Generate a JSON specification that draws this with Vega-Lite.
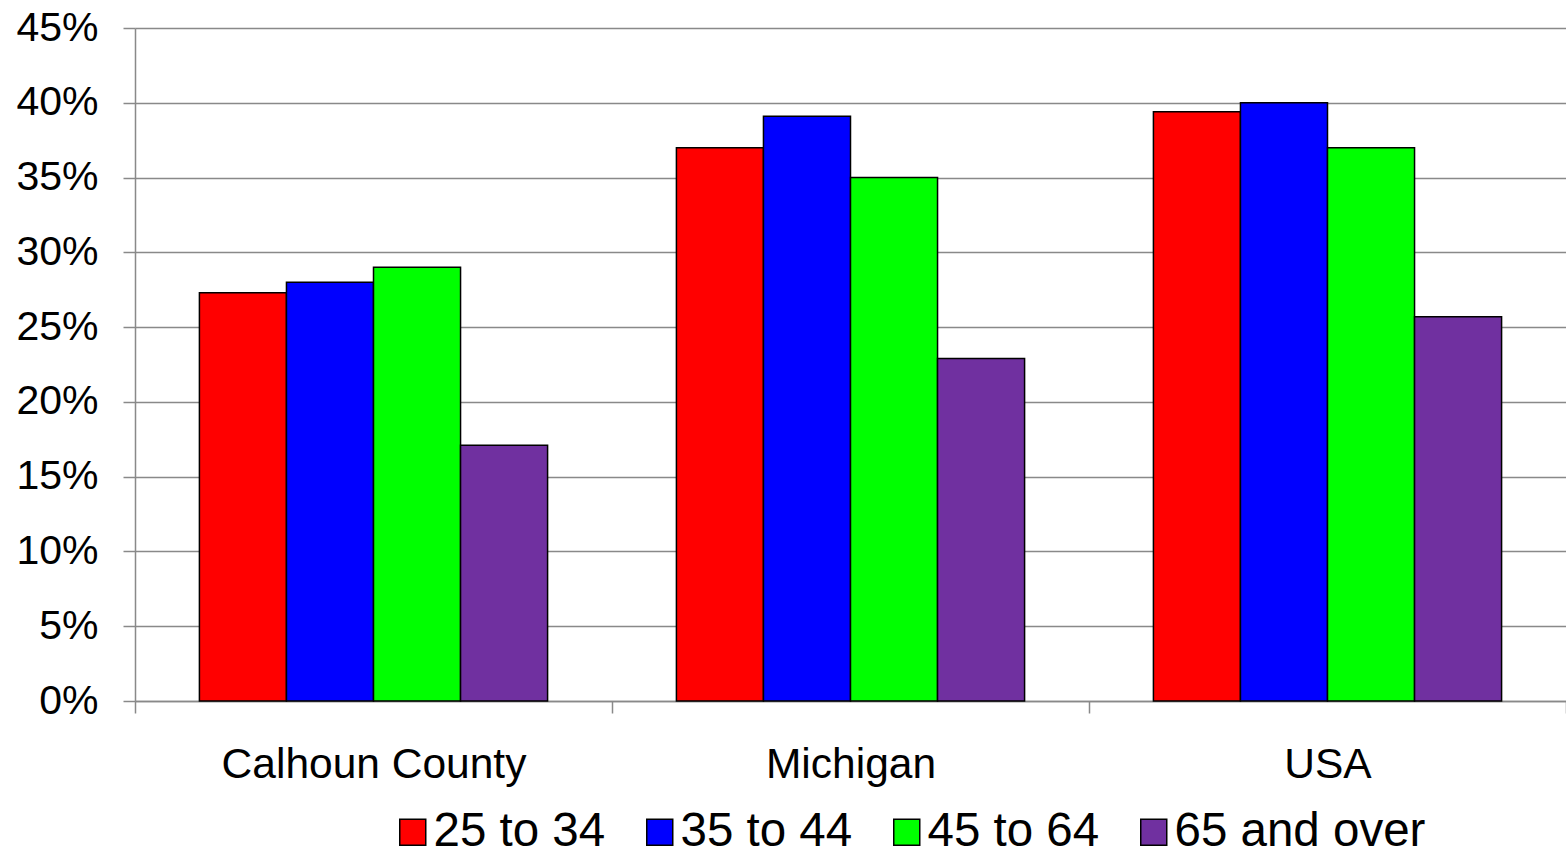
{
  "$schema": "https://vega.github.io/schema/vega-lite/v6.json",
  "width": 1431,
  "height": 673,
  "autosize": "none",
  "padding": {"left": 135, "top": 28, "right": 0, "bottom": 151},
  "background": "white",
  "config": {"view": {"stroke": null}, "font": "Liberation Sans"},
  "data": {
    "values": [
      {"region": "Calhoun County", "age": "25 to 34", "pct": 0.273},
      {"region": "Calhoun County", "age": "35 to 44", "pct": 0.280},
      {"region": "Calhoun County", "age": "45 to 64", "pct": 0.290},
      {"region": "Calhoun County", "age": "65 and over", "pct": 0.171},
      {"region": "Michigan", "age": "25 to 34", "pct": 0.370},
      {"region": "Michigan", "age": "35 to 44", "pct": 0.391},
      {"region": "Michigan", "age": "45 to 64", "pct": 0.350},
      {"region": "Michigan", "age": "65 and over", "pct": 0.229},
      {"region": "USA", "age": "25 to 34", "pct": 0.394},
      {"region": "USA", "age": "35 to 44", "pct": 0.400},
      {"region": "USA", "age": "45 to 64", "pct": 0.370},
      {"region": "USA", "age": "65 and over", "pct": 0.257}
    ]
  },
  "mark": {"type": "bar", "stroke": "black", "strokeWidth": 1.5},
  "encoding": {
    "x": {
      "field": "region",
      "type": "nominal",
      "sort": ["Calhoun County", "Michigan", "USA"],
      "scale": {"paddingInner": 0, "paddingOuter": 0},
      "axis": {
        "title": null,
        "labelAngle": 0,
        "labelFontSize": 42.5,
        "labelColor": "black",
        "labelPadding": 30,
        "labelLimit": 0,
        "tickBand": "extent",
        "tickSize": 12,
        "tickColor": "#898989",
        "tickWidth": 1.5,
        "domainColor": "#898989",
        "domainWidth": 1.5
      }
    },
    "xOffset": {
      "field": "age",
      "type": "nominal",
      "sort": ["25 to 34", "35 to 44", "45 to 64", "65 and over"],
      "scale": {"paddingInner": 0, "paddingOuter": 0.74}
    },
    "y": {
      "field": "pct",
      "type": "quantitative",
      "scale": {"domain": [0, 0.45], "nice": false},
      "axis": {
        "title": null,
        "format": ".0%",
        "values": [0, 0.05, 0.1, 0.15, 0.2, 0.25, 0.3, 0.35, 0.4, 0.45],
        "labelFontSize": 41,
        "labelColor": "black",
        "labelPadding": 25,
        "tickSize": 12,
        "tickColor": "#898989",
        "tickWidth": 1.5,
        "domainColor": "#898989",
        "domainWidth": 1.5,
        "gridColor": "#898989",
        "gridWidth": 1.5
      }
    },
    "color": {
      "field": "age",
      "type": "nominal",
      "scale": {
        "domain": ["25 to 34", "35 to 44", "45 to 64", "65 and over"],
        "range": ["#FF0000", "#0000FF", "#00FF00", "#7030A0"]
      },
      "legend": {
        "orient": "none",
        "legendX": 254,
        "legendY": 780,
        "direction": "horizontal",
        "title": null,
        "labelFontSize": 47.5,
        "labelColor": "black",
        "labelLimit": 0,
        "symbolType": "square",
        "symbolSize": 676,
        "symbolStrokeColor": "black",
        "symbolStrokeWidth": 1.5,
        "symbolOpacity": 1,
        "columnPadding": 30,
        "labelOffset": -3,
        "padding": 0
      }
    }
  }
}
